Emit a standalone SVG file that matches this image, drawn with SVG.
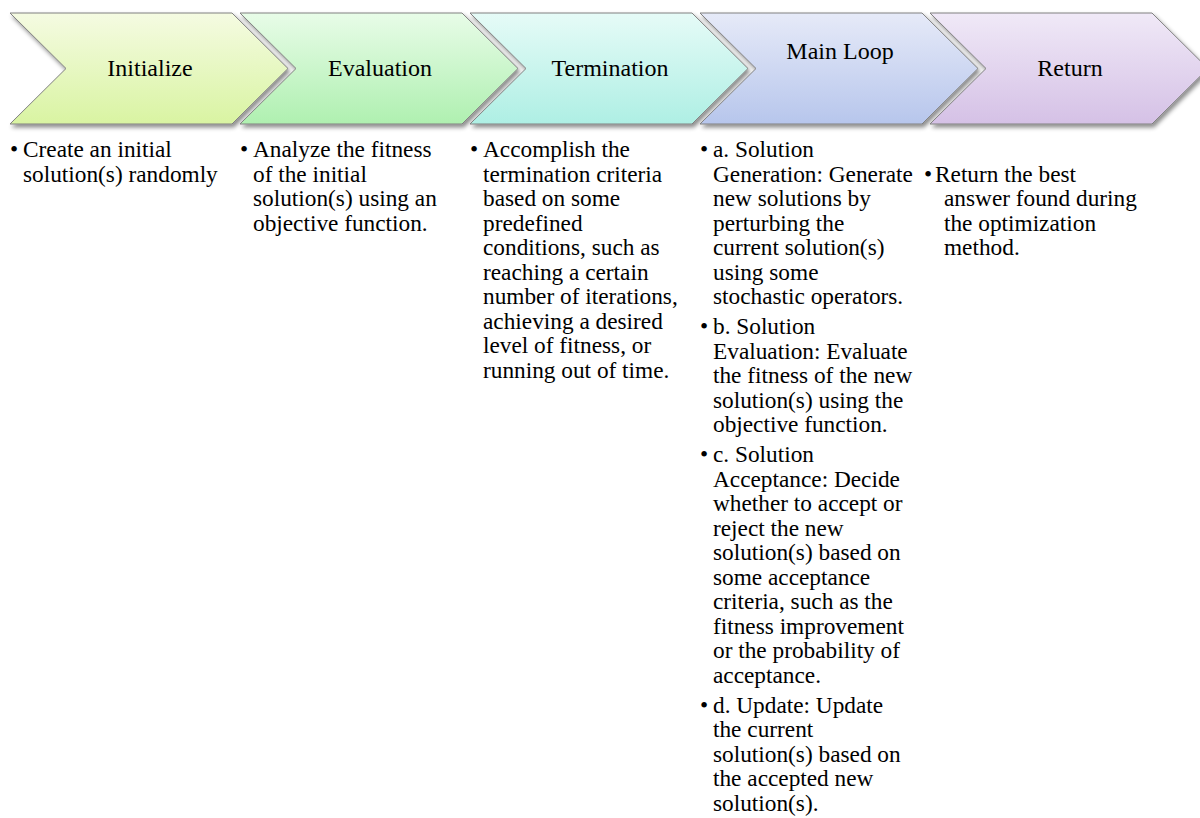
<svg xmlns="http://www.w3.org/2000/svg" width="1200" height="818" viewBox="0 0 1200 818">
<style>
.lbl{font-family:"Liberation Serif","Times New Roman",serif;font-size:24px;fill:#000;text-anchor:middle}
.t{font-family:"Liberation Serif","Times New Roman",serif;font-size:23.3px;fill:#000}
.chev{stroke:#808080;stroke-width:1;filter:url(#sh)}
</style>
<defs>
<filter id="sh" x="-10%" y="-10%" width="125%" height="130%">
<feDropShadow dx="2" dy="3" stdDeviation="2" flood-color="#000" flood-opacity="0.45"/>
</filter>
<path id="chevp" d="M0,13 H222 L278,68.5 L222,124 H0 L56,68.5 Z"/>
<linearGradient id="g1" x1="0" y1="0" x2="0" y2="1"><stop offset="0" stop-color="#f5fbe2"/><stop offset="1" stop-color="#d9f4a2"/></linearGradient>
<linearGradient id="g2" x1="0" y1="0" x2="0" y2="1"><stop offset="0" stop-color="#e8fce8"/><stop offset="1" stop-color="#aff0b0"/></linearGradient>
<linearGradient id="g3" x1="0" y1="0" x2="0" y2="1"><stop offset="0" stop-color="#e6fbf7"/><stop offset="1" stop-color="#aeefe4"/></linearGradient>
<linearGradient id="g4" x1="0" y1="0" x2="0" y2="1"><stop offset="0" stop-color="#e6eaf8"/><stop offset="1" stop-color="#b7c6ec"/></linearGradient>
<linearGradient id="g5" x1="0" y1="0" x2="0" y2="1"><stop offset="0" stop-color="#f0e9f7"/><stop offset="1" stop-color="#d5c1e6"/></linearGradient>
</defs>
<rect width="1200" height="818" fill="#fff"/>

<g id="step-initialize">
<use href="#chevp" class="chev" fill="url(#g1)" transform="translate(10,0)"/>
<text class="lbl" x="150" y="76">Initialize</text>
<text class="t" x="10" y="157">•</text>
<text class="t" x="23" y="157">Create an initial</text>
<text class="t" x="23" y="181.5">solution(s) randomly</text>
</g>

<g id="step-evaluation">
<use href="#chevp" class="chev" fill="url(#g2)" transform="translate(240,0)"/>
<text class="lbl" x="380" y="76">Evaluation</text>
<text class="t" x="240" y="157">•</text>
<text class="t" x="253" y="157">Analyze the fitness</text>
<text class="t" x="253" y="181.5">of the initial</text>
<text class="t" x="253" y="206">solution(s) using an</text>
<text class="t" x="253" y="230.5">objective function.</text>
</g>

<g id="step-termination">
<use href="#chevp" class="chev" fill="url(#g3)" transform="translate(470,0)"/>
<text class="lbl" x="610" y="76">Termination</text>
<text class="t" x="470" y="157">•</text>
<text class="t" x="483" y="157">Accomplish the</text>
<text class="t" x="483" y="181.5">termination criteria</text>
<text class="t" x="483" y="206">based on some</text>
<text class="t" x="483" y="230.5">predefined</text>
<text class="t" x="483" y="255">conditions, such as</text>
<text class="t" x="483" y="279.5">reaching a certain</text>
<text class="t" x="483" y="304">number of iterations,</text>
<text class="t" x="483" y="328.5">achieving a desired</text>
<text class="t" x="483" y="353">level of fitness, or</text>
<text class="t" x="483" y="377.5">running out of time.</text>
</g>

<g id="step-main-loop">
<use href="#chevp" class="chev" fill="url(#g4)" transform="translate(700,0)"/>
<text class="lbl" x="840" y="59">Main Loop</text>
<text class="t" x="700" y="157">•</text>
<text class="t" x="713" y="157">a. Solution</text>
<text class="t" x="713" y="181.5">Generation: Generate</text>
<text class="t" x="713" y="206">new solutions by</text>
<text class="t" x="713" y="230.5">perturbing the</text>
<text class="t" x="713" y="255">current solution(s)</text>
<text class="t" x="713" y="279.5">using some</text>
<text class="t" x="713" y="304">stochastic operators.</text>
<text class="t" x="700" y="334">•</text>
<text class="t" x="713" y="334">b. Solution</text>
<text class="t" x="713" y="358.5">Evaluation: Evaluate</text>
<text class="t" x="713" y="383">the fitness of the new</text>
<text class="t" x="713" y="407.5">solution(s) using the</text>
<text class="t" x="713" y="432">objective function.</text>
<text class="t" x="700" y="462">•</text>
<text class="t" x="713" y="462">c. Solution</text>
<text class="t" x="713" y="486.5">Acceptance: Decide</text>
<text class="t" x="713" y="511">whether to accept or</text>
<text class="t" x="713" y="535.5">reject the new</text>
<text class="t" x="713" y="560">solution(s) based on</text>
<text class="t" x="713" y="584.5">some acceptance</text>
<text class="t" x="713" y="609">criteria, such as the</text>
<text class="t" x="713" y="633.5">fitness improvement</text>
<text class="t" x="713" y="658">or the probability of</text>
<text class="t" x="713" y="682.5">acceptance.</text>
<text class="t" x="700" y="712.5">•</text>
<text class="t" x="713" y="712.5">d. Update: Update</text>
<text class="t" x="713" y="737">the current</text>
<text class="t" x="713" y="761.5">solution(s) based on</text>
<text class="t" x="713" y="786">the accepted new</text>
<text class="t" x="713" y="810.5">solution(s).</text>
</g>

<g id="step-return">
<use href="#chevp" class="chev" fill="url(#g5)" transform="translate(930,0)"/>
<text class="lbl" x="1070" y="76">Return</text>
<text class="t" x="924" y="181.5">•</text>
<text class="t" x="935" y="181.5">Return the best</text>
<text class="t" x="944" y="206">answer found during</text>
<text class="t" x="944" y="230.5">the optimization</text>
<text class="t" x="944" y="255">method.</text>
</g>

<g id="connectors"></g>
</svg>
